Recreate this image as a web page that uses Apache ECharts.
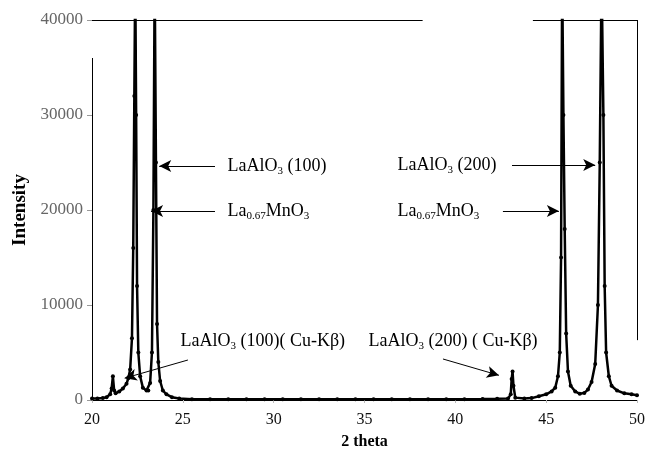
<!DOCTYPE html>
<html>
<head>
<meta charset="utf-8">
<script src="https://cdn.jsdelivr.net/npm/echarts@6/dist/echarts.min.js"></script>
<style>
  html, body { margin: 0; padding: 0; background: #fff; }
  #chart { width: 648px; height: 457px; }
</style>
</head>
<body>
<div id="chart"></div>
<script>
// XRD pattern (2 theta in degrees, intensity in counts)
const twoTheta = [
  20.0, 20.3, 20.6, 20.8, 21.0, 21.08, 21.15, 21.22, 21.3, 21.5, 21.7, 21.9, 22.0, 22.1,
  22.2, 22.27, 22.33, 22.38, 22.43, 22.48, 22.55, 22.65, 22.8, 23.0, 23.1, 23.2, 23.3,
  23.38, 23.45, 23.52, 23.58, 23.65, 23.75, 23.9, 24.1, 24.4, 24.8, 25.5, 26.5, 27.5,
  28.5, 29.5, 30.5, 31.5, 32.5, 33.5, 34.5, 35.5, 36.5, 37.5, 38.5, 39.5, 40.5, 41.5,
  42.3, 42.9, 43.05, 43.1, 43.15, 43.2, 43.3, 43.8, 44.2, 44.6, 45.0, 45.3, 45.5, 45.65,
  45.75, 45.82, 45.88, 45.95, 46.02, 46.1, 46.2, 46.35, 46.6, 46.85, 47.1, 47.3, 47.5,
  47.7, 47.85, 47.95, 48.05, 48.15, 48.22, 48.3, 48.45, 48.6, 48.9, 49.3, 49.7, 50.0
];
const intensity = [
  150, 150, 200, 300, 600, 1200, 2500, 1000, 700, 900, 1200, 1700, 2300, 3200,
  6500, 16000, 32000, 45000, 30000, 12000, 5000, 2500, 1300, 1000, 1000, 1800, 5000,
  20000, 45000, 25000, 8000, 4000, 2000, 1000, 600, 300, 150, 90, 80, 80,
  80, 80, 80, 80, 80, 80, 80, 80, 80, 80, 80, 80, 90, 100,
  120, 150, 600, 2200, 3000, 1500, 250, 150, 200, 400, 600, 900, 1300, 2500,
  5000, 15000, 45000, 30000, 18000, 7000, 3000, 1500, 900, 650, 750, 1100, 1900,
  3800, 10000, 25000, 45000, 30000, 12000, 5000, 2500, 1500, 1000, 700, 600, 500
];
const xTicks = [20, 25, 30, 35, 40, 45, 50];
const yTicks = [0, 10000, 20000, 30000, 40000];

const serif = '"Liberation Serif", "DejaVu Serif", serif';
const rich = {
  m: { fontFamily: serif, fontSize: 18, color: '#000', lineHeight: 22 },
  s: { fontFamily: serif, fontSize: 11, color: '#000', lineHeight: 12, verticalAlign: 'bottom' }
};

function note(x, y, text) {
  return { coord: [x, y], value: text };
}
function arrow(x1, y1, x2, y2) {
  return [{ coord: [x1, y1], symbol: 'none' }, { coord: [x2, y2], symbol: 'arrow' }];
}
function rule(x1, y1, x2, y2) {
  return [{ coord: [x1, y1], symbol: 'none' }, { coord: [x2, y2], symbol: 'none' }];
}

const chart = echarts.init(document.getElementById('chart'));
const option = {
  animation: false,
  grid: { left: 92, right: 11, top: 20, bottom: 57 },
  xAxis: {
    type: 'value',
    min: xTicks[0],
    max: xTicks[xTicks.length - 1],
    interval: 5,
    name: '2 theta',
    nameLocation: 'middle',
    nameGap: 34,
    nameTextStyle: { fontFamily: serif, fontSize: 16, fontWeight: 'bold', color: '#000' },
    axisLine: { show: true, lineStyle: { color: '#000', width: 1 } },
    axisTick: { show: true, length: 3, lineStyle: { color: '#bbb' } },
    axisLabel: { fontFamily: serif, fontSize: 16, color: '#111', margin: 12 },
    splitLine: { show: false }
  },
  yAxis: {
    type: 'value',
    min: yTicks[0],
    max: yTicks[yTicks.length - 1],
    interval: 10000,
    name: 'Intensity',
    nameLocation: 'middle',
    nameGap: 62,
    nameTextStyle: { fontFamily: serif, fontSize: 19, fontWeight: 'bold', color: '#000' },
    axisLine: { show: false },
    axisTick: { show: true, inside: false, length: 5, lineStyle: { color: '#999' } },
    axisLabel: { fontFamily: serif, fontSize: 17, color: '#666', margin: 9, formatter: v => String(v) },
    splitLine: { show: false }
  },
  series: [{
    type: 'line',
    data: twoTheta.map((t, i) => [t, intensity[i]]),
    clip: true,
    symbol: 'circle',
    symbolSize: 4,
    showSymbol: true,
    lineStyle: { color: '#000', width: 2.5 },
    itemStyle: { color: '#000' },
    silent: true,
    markLine: {
      silent: true,
      symbolSize: [9, 12],
      label: { show: false },
      lineStyle: { color: '#000', width: 1, type: 'solid' },
      data: [
        arrow(26.77, 24630, 23.7, 24630),
        arrow(26.77, 19900, 23.25, 19900),
        arrow(43.12, 24740, 47.7, 24740),
        arrow(42.62, 19900, 45.7, 19900),
        arrow(25.28, 4210, 21.8, 2300),
        arrow(39.32, 4316, 42.4, 2600),
        // frame pieces seen in the picture
        rule(20, 0, 20, 36000),
        rule(20, 40000, 38.2, 40000),
        rule(44.27, 40000, 50, 40000),
        rule(50, 40000, 50, 6300)
      ]
    },
    markPoint: {
      silent: true,
      symbol: 'rect',
      symbolSize: 1,
      itemStyle: { color: 'rgba(0,0,0,0)' },
      label: {
        show: true,
        position: 'right',
        distance: 0,
        formatter: p => p.value,
        rich: rich
      },
      data: [
        note(27.43, 24630, '{m|LaAlO}{s|3}{m| (100)}'),
        note(27.43, 19900, '{m|La}{s|0.67}{m|MnO}{s|3}'),
        note(36.79, 24740, '{m|LaAlO}{s|3}{m| (200)}'),
        note(36.79, 19900, '{m|La}{s|0.67}{m|MnO}{s|3}'),
        note(24.84, 6210, '{m|LaAlO}{s|3}{m| (100)( Cu-Kβ)}'),
        note(35.19, 6210, '{m|LaAlO}{s|3}{m| (200) ( Cu-Kβ)}')
      ]
    }
  }]
};
chart.setOption(option);
</script>
</body>
</html>
